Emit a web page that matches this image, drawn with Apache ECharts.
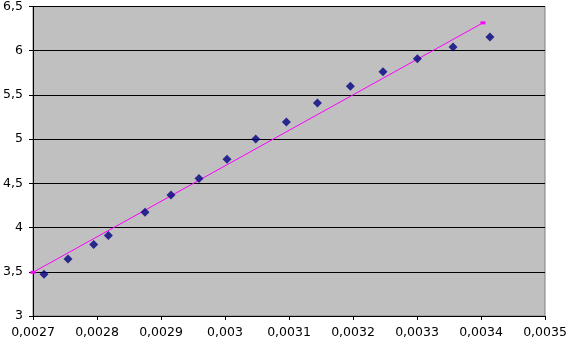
<!DOCTYPE html>
<html>
<head>
<meta charset="utf-8">
<script src="https://cdn.jsdelivr.net/npm/echarts@6/dist/echarts.min.js"></script>
<style>
html,body{margin:0;padding:0;background:#fff;}
#chart{width:570px;height:347px;}
</style>
</head>
<body>
<div id="chart"></div>
<script>
// Measured points (x = 1/T, y = ln value)
const xValues = [0.0027172, 0.0027547, 0.0027948, 0.0028178, 0.002875, 0.0029156, 0.0029594, 0.0030031,
                 0.003048, 0.0030959, 0.0031444, 0.0031959, 0.0032469, 0.0033006, 0.0033563, 0.003414];
const yValues = [3.472, 3.644, 3.809, 3.910, 4.172, 4.367, 4.554, 4.772,
                 5.003, 5.194, 5.408, 5.599, 5.761, 5.910, 6.042, 6.154];
// Trend line end points
const trendX = [0.0027, 0.003403];
const trendY = [3.494, 6.315];
// Axis ranges
const xAxisRange = [0.0027, 0.0035, 0.0001];
const yAxisRange = [3, 6.5, 0.5];

const fmt = (v, d) => String(+v.toFixed(d)).replace('.', ',');
const labelFont = {color: '#000', fontFamily: 'DejaVu Sans', fontSize: 12.5};

const chart = echarts.init(document.getElementById('chart'), null, {renderer: 'canvas'});
chart.setOption({
  animation: false,
  backgroundColor: '#ffffff',
  grid: {left: 33, right: 25, top: 4.5, bottom: 31, show: true, backgroundColor: '#C0C0C0', borderColor: '#808080', borderWidth: 1, containLabel: false},
  xAxis: {
    type: 'value', min: xAxisRange[0], max: xAxisRange[1], interval: xAxisRange[2],
    axisLine: {show: true, onZero: false, lineStyle: {color: '#000', width: 1}},
    axisTick: {show: true, length: 4, lineStyle: {color: '#000'}},
    splitLine: {show: false},
    axisLabel: Object.assign({margin: 10, formatter: v => fmt(v, 4)}, labelFont)
  },
  yAxis: {
    type: 'value', min: yAxisRange[0], max: yAxisRange[1], interval: yAxisRange[2],
    axisLine: {show: true, onZero: false, lineStyle: {color: '#000', width: 1}},
    axisTick: {show: true, length: 4, lineStyle: {color: '#000'}},
    splitLine: {show: true, lineStyle: {color: '#000', width: 1}},
    axisLabel: Object.assign({margin: 10, formatter: v => fmt(v, 1)}, labelFont)
  },
  series: [
    {
      type: 'line',
      data: trendX.map((x, i) => [x, trendY[i]]),
      symbol: 'rect', symbolSize: [5, 3], showSymbol: true,
      lineStyle: {color: '#FF00FF', width: 1},
      itemStyle: {color: '#FF00FF'},
      z: 3
    },
    {
      type: 'scatter',
      data: xValues.map((x, i) => [x, yValues[i]]),
      symbol: 'diamond', symbolSize: 9,
      itemStyle: {color: '#000080'},
      z: 4
    }
  ]
});
</script>
</body>
</html>
